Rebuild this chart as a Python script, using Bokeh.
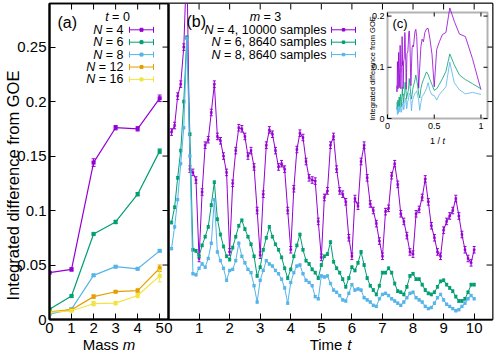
import numpy as np
from bokeh.plotting import figure
from bokeh.models import (Range1d, FixedTicker, NumeralTickFormatter, LinearAxis, Label, Span,
                          BoxAnnotation)
from bokeh.core.properties import value
from bokeh.layouts import column
from bokeh.embed import file_html
from bokeh.resources import INLINE

FONT = "Liberation Sans"
COL = {"4": "#9400d3", "6": "#009e73", "8": "#56b4e9", "12": "#e69f00", "16": "#f0e442"}

# ---------------- panel (a): t = 0, difference vs mass ----------------
mass = [0, 1, 2, 3, 4, 5]
a_sizes = ["4", "6", "8", "12", "16"]
a_n4 = [0.043, 0.046, 0.144, 0.176, 0.175, 0.203]
a_n6 = [0.0095, 0.0215, 0.0785, 0.0895, 0.115, 0.1545]
a_n8 = [0.005, 0.0095, 0.0405, 0.0485, 0.0465, 0.063]
a_n12 = [0.007, 0.009, 0.021, 0.0255, 0.0265, 0.047]
a_n16 = [0.0065, 0.008, 0.0145, 0.015, 0.022, 0.040]
a_e4 = [0.001, 0.0015, 0.0035, 0.002, 0.002, 0.003]
a_e6 = [0.0005, 0.001, 0.001, 0.0015, 0.0015, 0.002]
a_e8 = [0.0005, 0.001, 0.001, 0.001, 0.001, 0.001]
a_e12 = [0.0005, 0.001, 0.0015, 0.001, 0.0015, 0.003]
a_e16 = [0.0005, 0.001, 0.002, 0.0015, 0.002, 0.0055]

# ---------------- panel (b): m = 3, difference vs time ----------------
time = np.round(np.arange(1, 101) * 0.1, 1)
b_labels = ["= 4, 10000 samples", "= 6, 8640 samples", "= 8, 8640 samples"]
b_n4 = [0.172, 0.178, 0.205, 0.216, 0.250, 0.330, 0.138, 0.135, 0.128, 0.056,
        0.117, 0.160, 0.165, 0.190, 0.216, 0.168, 0.164, 0.150, 0.135, 0.062,
        0.125, 0.155, 0.176, 0.175, 0.168, 0.150, 0.155, 0.140, 0.100, 0.059,
        0.115, 0.160, 0.174, 0.170, 0.155, 0.140, 0.143, 0.138, 0.100, 0.064,
        0.120, 0.156, 0.171, 0.167, 0.145, 0.130, 0.128, 0.127, 0.090, 0.057,
        0.112, 0.118, 0.160, 0.168, 0.138, 0.118, 0.115, 0.108, 0.075, 0.058,
        0.111, 0.104, 0.145, 0.160, 0.130, 0.106, 0.100, 0.088, 0.072, 0.058,
        0.099, 0.102, 0.132, 0.143, 0.124, 0.097, 0.090, 0.077, 0.062, 0.060,
        0.097, 0.101, 0.112, 0.129, 0.108, 0.086, 0.075, 0.062, 0.058, 0.082,
        0.090, 0.095, 0.100, 0.111, 0.095, 0.078, 0.064, 0.056, 0.052, 0.064]
b_n6 = [0.089, 0.103, 0.130, 0.155, 0.200, 0.259, 0.170, 0.064, 0.063, 0.058,
        0.068, 0.076, 0.085, 0.105, 0.126, 0.092, 0.078, 0.067, 0.058, 0.055,
        0.066, 0.076, 0.086, 0.091, 0.083, 0.076, 0.069, 0.058, 0.040, 0.048,
        0.064, 0.075, 0.085, 0.076, 0.069, 0.064, 0.057, 0.047, 0.038, 0.046,
        0.058, 0.068, 0.078, 0.064, 0.054, 0.051, 0.046, 0.043, 0.038, 0.050,
        0.058, 0.060, 0.071, 0.053, 0.047, 0.043, 0.037, 0.030, 0.038, 0.048,
        0.045, 0.052, 0.062, 0.050, 0.038, 0.031, 0.027, 0.023, 0.031, 0.043,
        0.043, 0.047, 0.043, 0.033, 0.026, 0.025, 0.023, 0.030, 0.040, 0.042,
        0.037, 0.037, 0.032, 0.027, 0.024, 0.023, 0.025, 0.030, 0.035, 0.036,
        0.032, 0.029, 0.026, 0.021, 0.017, 0.017, 0.019, 0.025, 0.032, 0.032]
b_n8 = [0.065, 0.085, 0.110, 0.143, 0.176, 0.258, 0.150, 0.042, 0.041, 0.047,
        0.051, 0.048, 0.056, 0.070, 0.110, 0.062, 0.054, 0.047, 0.036, 0.045,
        0.046, 0.054, 0.070, 0.058, 0.052, 0.046, 0.043, 0.031, 0.016, 0.036,
        0.045, 0.054, 0.051, 0.049, 0.045, 0.042, 0.037, 0.029, 0.015, 0.034,
        0.043, 0.049, 0.050, 0.042, 0.036, 0.034, 0.031, 0.021, 0.019, 0.040,
        0.039, 0.040, 0.033, 0.027, 0.025, 0.022, 0.018, 0.017, 0.024, 0.032,
        0.027, 0.028, 0.027, 0.020, 0.018, 0.016, 0.013, 0.012, 0.019, 0.023,
        0.024, 0.022, 0.019, 0.017, 0.015, 0.013, 0.016, 0.020, 0.024, 0.025,
        0.020, 0.018, 0.016, 0.012, 0.010, 0.011, 0.015, 0.020, 0.023, 0.018,
        0.014, 0.012, 0.010, 0.008, 0.009, 0.012, 0.015, 0.019, 0.022, 0.019]
b_err = [0.003, 0.0012, 0.001]
b_sizes = ["4", "6", "8"]

# ---------------- inset (c) tick labels ----------------
c_xticks = [0, 0.5, 1]
c_xlabels = ["0", "0.5", "1"]
c_yticks = [0, 0.1, 0.2]
c_ylabels = ["0", "0.1", "0.2"]

# ---------------- geometry ----------------
FL, FT, FW, FH = 49, 3, 443, 316
GA = dict(left=49, right=168, top=3, bottom=319, x0=0.0, x1=5.4, y0=0.0, y1=0.29)
GB = dict(left=168, right=492, top=3, bottom=319, x0=0.0, x1=10.6, y0=0.0, y1=0.29)
GC = dict(left=387, right=487, top=12, bottom=118, x0=0.0, x1=1.07, y0=0.0, y1=0.207)

METRIC = {'N': .722, 'm': .833, 't': .278, ' ': .278, '=': .584, ',': .278, 'a': .556,
          's': .5, 'p': .556, 'l': .222, 'e': .556, 'T': .611, 'i': .222, 'M': .833, '/': .278}


def tw(s, size):
    return sum(METRIC.get(c, .556) for c in s) * size


def to_data(g, sx, sy):
    x = g["x0"] + (sx - g["left"]) / (g["right"] - g["left"]) * (g["x1"] - g["x0"])
    y = g["y1"] - (sy - g["top"]) / (g["bottom"] - g["top"]) * (g["y1"] - g["y0"])
    return x, y


def px_len_x(g, n):
    return n / (g["right"] - g["left"]) * (g["x1"] - g["x0"])


def px_len_y(g, n):
    return n / (g["bottom"] - g["top"]) * (g["y1"] - g["y0"])


def make_fig(g, bg):
    xa, ya = to_data(g, FL, FT + FH)
    xb, yb = to_data(g, FL + FW, FT)
    p = figure(width=496, height=355, output_backend="svg", toolbar_location=None,
               x_range=Range1d(xa, xb), y_range=Range1d(ya, yb),
               x_axis_location=None, y_axis_location=None,
               min_border_left=FL, min_border_right=496 - FL - FW,
               min_border_top=FT, min_border_bottom=355 - FT - FH)
    p.border_fill_color = None
    p.background_fill_color = "white" if bg else None
    p.outline_line_color = None
    for gr in p.grid:
        gr.visible = False
    return p


def add_axis(p, loc, ticks, size="15px", tick_in=6, width=1.5, fmt=None, standoff=3):
    ax = LinearAxis(ticker=FixedTicker(ticks=ticks))
    ax.major_tick_in = tick_in
    ax.major_tick_out = 0
    ax.minor_tick_line_color = None
    ax.axis_line_width = width
    ax.axis_line_color = "black"
    ax.major_tick_line_width = 1
    ax.major_tick_line_color = "black"
    ax.major_label_text_font = FONT
    ax.major_label_text_font_size = size
    ax.major_label_text_color = "black"
    ax.major_label_standoff = standoff
    if fmt is not None:
        ax.formatter = fmt
    p.add_layout(ax, loc)
    return ax


def inward_ticks(p, g, xticks, yticks, n, top=True, right=True, bottom=False, left=False):
    dy = px_len_y(g, n)
    dx = px_len_x(g, n)
    kw = dict(line_color="black", line_width=1)
    xt = np.asarray(xticks, dtype=float)
    yt = np.asarray(yticks, dtype=float)
    if top:
        p.segment(x0=xt, y0=g["y1"] + 0 * xt, x1=xt, y1=g["y1"] - dy + 0 * xt, **kw)
    if bottom:
        p.segment(x0=xt, y0=g["y0"] + 0 * xt, x1=xt, y1=g["y0"] + dy + 0 * xt, **kw)
    if right:
        p.segment(x0=g["x1"] + 0 * yt, y0=yt, x1=g["x1"] - dx + 0 * yt, y1=yt, **kw)
    if left:
        p.segment(x0=g["x0"] + 0 * yt, y0=yt, x1=g["x0"] + dx + 0 * yt, y1=yt, **kw)


def text(p, g, sx, sy, s, size, align="left", italic=False, angle=0.0, side=None):
    # g must be the geometry of the figure p (pixel -> data of p's own ranges)
    x, y = to_data(g, sx, sy)
    lab = Label(x=x, y=y, text=s, text_font=FONT, text_font_size=f"{size}px",
                text_align=align, text_baseline="middle", angle=angle,
                text_font_style="italic" if italic else "normal", text_color="black")
    if side is None:
        p.add_layout(lab)
    else:
        p.add_layout(lab, side)


def series(p, x, y, err, color, msize, cap, lw=1.0):
    x = np.asarray(x, dtype=float)
    y = np.asarray(y, dtype=float)
    err = np.asarray(err, dtype=float) * np.ones_like(y)
    p.line(x, y, line_color=color, line_width=lw)
    p.segment(x0=x, y0=y - err, x1=x, y1=y + err, line_color=color, line_width=1)
    p.scatter(x, y + err, marker="dash", size=cap, line_color=color, line_width=1)
    p.scatter(x, y - err, marker="dash", size=cap, line_color=color, line_width=1)
    p.scatter(x, y, marker="square", size=msize, fill_color=color, line_color=color, line_width=0.5)


def key_sample(p, g, sx0, sx1, sy, color, msize):
    x0, y0 = to_data(g, sx0, sy)
    x1, _ = to_data(g, sx1, sy)
    p.segment(x0=[x0], y0=[y0], x1=[x1], y1=[y0], line_color=color, line_width=1)
    p.scatter([x0, x1], [y0, y0], marker="dash", angle=np.pi / 2, size=6, line_color=color, line_width=1)
    p.scatter([(x0 + x1) / 2], [y0], marker="square", size=msize, fill_color=color, line_color=color)


yfmt = NumeralTickFormatter(format="0.[00]")
yticks = [0, 0.05, 0.1, 0.15, 0.2, 0.25]
tticks = list(range(0, 11))
fs_ax = 15
fk = 12.5

# ================= panel (a) =================
pa = make_fig(GA, bg=True)
pa.outline_line_color = "black"
pa.outline_line_width = 1.5
add_axis(pa, "left", yticks, fmt=yfmt, width=2)
add_axis(pa, "below", mass)
inward_ticks(pa, GA, mass, yticks, 6)

a_vals = [a_n4, a_n6, a_n8, a_n12, a_n16]
a_errs = [a_e4, a_e6, a_e8, a_e12, a_e16]
for lab, vals, errs in zip(a_sizes, a_vals, a_errs):
    series(pa, mass, vals, errs, COL[lab], 3.5, 4, lw=1.2)

text(pa, GA, 57, 22, "(a)", 16)
tx0 = 117 - tw("t = 0", fk) / 2
text(pa, GA, tx0, 16, "t", fk, italic=True)
text(pa, GA, tx0 + tw("t ", fk), 16, "= 0", fk)
rows_a = [29.3, 41.7, 54.1, 66.5, 78.9]
for lab, ry in zip(a_sizes, rows_a):
    rest = "= " + lab
    text(pa, GA, 123, ry, rest, fk, align="right")
    text(pa, GA, 123 - tw(" " + rest, fk), ry, "N", fk, align="right", italic=True)
    key_sample(pa, GA, 129, 153, ry, COL[lab], 3)

# ================= panel (b) =================
pb = make_fig(GB, bg=False)
pb.outline_line_color = "black"
pb.outline_line_width = 1.5
pb.add_layout(BoxAnnotation(left=GB["x0"], fill_color="white", fill_alpha=1.0,
                            line_color=None, level="underlay"))
add_axis(pb, "below", tticks)
inward_ticks(pb, GB, tticks, yticks, 6)
pb.add_layout(Span(location=GB["x0"], dimension="height", line_color="black", line_width=2.5))

b_vals = [b_n4, b_n6, b_n8]
for lab, vals, e in zip(b_sizes, b_vals, b_err):
    series(pb, time, vals, e, COL[lab], 2 if lab == "4" else 2.5, 3, lw=1.0)

text(pb, GB, 186, 21, "(b)", 16)
mx = 265 - tw("m = 3", fk) / 2
text(pb, GB, mx, 16, "m", fk, italic=True)
text(pb, GB, mx + tw("m ", fk), 16, "= 3", fk)
rows_b = [29.3, 41.7, 54.1]
for lab, rest, ry in zip(b_sizes, b_labels, rows_b):
    text(pb, GB, 326, ry, rest, fk, align="right")
    text(pb, GB, 326 - tw(" " + rest, fk), ry, "N", fk, align="right", italic=True)
    key_sample(pb, GB, 331, 355, ry, COL[lab], 2.5)

# ================= inset (c) =================
pc = make_fig(GC, bg=False)
pc.add_layout(BoxAnnotation(left=GC["x0"], right=GC["x1"], bottom=GC["y0"], top=GC["y1"],
                            fill_color="white", fill_alpha=1.0, line_color="black",
                            line_width=2, level="underlay"))
inward_ticks(pc, GC, c_xticks, c_yticks, 4, top=True, right=True, bottom=True, left=True)
keep = time >= 1.0
inv_t = 1.0 / time[keep]
for lab, vals in zip(b_sizes, b_vals):
    pc.line(inv_t, np.asarray(vals)[keep], line_color=COL[lab], line_width=0.8)
pc.text(x=c_xticks, y=[GC["y0"]] * 3, text=c_xlabels, text_align="center", text_baseline="top",
        y_offset=4, text_font=value(FONT), text_font_size="9px", text_color="black")
pc.text(x=[GC["x0"]] * 3, y=c_yticks, text=c_ylabels, text_align="right", text_baseline="middle",
        x_offset=-3, text_font=value(FONT), text_font_size="9px", text_color="black")
text(pc, GC, 392, 23, "(c)", 13)
text(pc, GC, 372, 68, "Integrated difference from GOE", 7.5, align="center", angle=np.pi / 2)
ix = 437 - tw("1 / t", 9) / 2
text(pc, GC, ix, 140, "1 /", 9)
text(pc, GC, ix + tw("1 / ", 9), 140, "t", 9, italic=True)

# ======== axis titles: one text per side panel of transparent, empty overlay figures ========
mx0 = 108.5 - tw("Mass m", fs_ax) / 2
tx = 330 - tw("Time t", fs_ax) / 2
titles = [
    ("left", 12, 185, "Integrated difference from GOE", 16.5, "center", False, np.pi / 2),
    ("below", mx0, 344, "Mass", fs_ax, "left", False, 0.0),
    ("below", mx0 + tw("Mass ", fs_ax), 344, "m", fs_ax, "left", True, 0.0),
    ("below", tx, 344, "Time", fs_ax, "left", False, 0.0),
    ("below", tx + tw("Time ", fs_ax), 344, "t", fs_ax, "left", True, 0.0),
]
overlays = []
for side, sx, sy, s, size, align, italic, angle in titles:
    pt = make_fig(GA, bg=False)
    text(pt, GA, sx, sy, s, size, align=align, italic=italic, angle=angle, side=side)
    overlays.append(pt)

# stack all same-sized figures on top of each other
children = [pa, pb, pc] + overlays
for ch in children[1:]:
    ch.margin = (-355, 0, 0, 0)
root = column(*children, spacing=0)
open("out.html", "w").write(file_html(root, INLINE))
